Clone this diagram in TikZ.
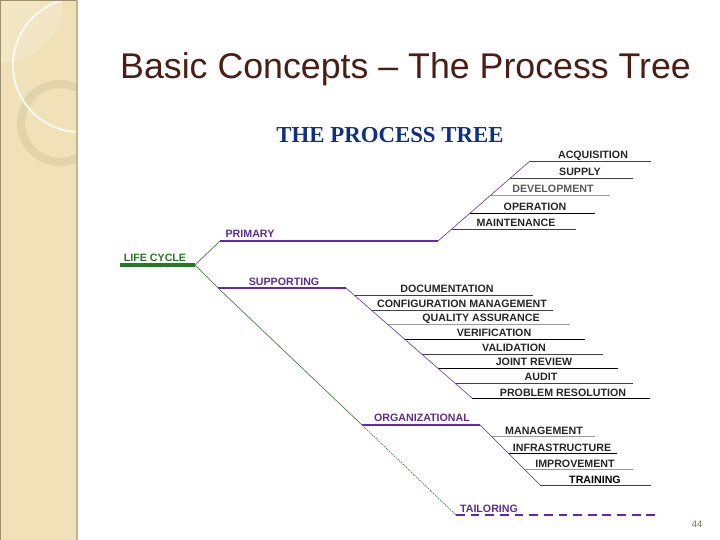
\documentclass[tikz,border=0pt]{standalone}
\usepackage{fontspec}
\setsansfont{Liberation Sans}
\newfontfamily\procserif{Liberation Serif}
\usepackage{tikz}
\usetikzlibrary{positioning,calc}
\definecolor{stripTan}{HTML}{F0E1B8}
\definecolor{stripEdge}{HTML}{C6B48A}
\definecolor{titleBrown}{HTML}{4A1E16}
\definecolor{procBlue}{HTML}{10307F}
\definecolor{procGreen}{HTML}{237A23}
\definecolor{procPurple}{HTML}{6A22B8}
\definecolor{procViolet}{HTML}{5C2D91}
\tikzset{
  proc/label/.style={font=\sffamily\bfseries\fontsize{9.1}{11}\selectfont, inner sep=0pt, anchor=base, text=black!85},
  proc/group/.style={proc/label, text=procViolet},
  proc/uline/.style={draw=black!75, line width=0.8pt},
  proc/faint/.style={draw=black!40, line width=0.8pt},
  proc/bar/.style={draw=procPurple, line width=1.7pt},
  proc/trunk/.style={draw=procGreen, line width=2.6pt},
  proc/stem/.style={draw=procGreen!50!gray, line width=0.6pt},
  proc/twig/.style={draw=procPurple!55!gray, line width=0.6pt}
}
\begin{document}
\begin{tikzpicture}[x=0.03cm,y=-0.03cm]
  \useasboundingbox (0,0) rectangle (720,540);
  % side strip
  \fill[stripTan] (0,0) rectangle (77,540);
  \begin{scope}
    \clip (0,0) rectangle (77,540);
    \fill[white, opacity=0.18] (0,0) circle (63);
    \draw[stripEdge, opacity=0.3, line width=7pt] (60,123) circle (39);
    \draw[white, opacity=0.8, line width=1.6pt] (80,65) circle (67);
  \end{scope}
  \draw[stripEdge!80!black, line width=0.6pt] (0,0) rectangle (77,540);
  \draw[stripEdge, line width=1.6pt] (77,0) -- (77,540);
  % titles
  \node[font=\sffamily\fontsize{30.5}{34}\selectfont, text=titleBrown, inner sep=0pt, anchor=base west] (title) at (120,79) {Basic Concepts -- The Process Tree};
  \node[font=\procserif\bfseries\fontsize{19.5}{22}\selectfont, text=procBlue, inner sep=0pt, anchor=base] (head) at (390,143) {THE PROCESS TREE};
  \node[font=\sffamily\fontsize{8}{9}\selectfont, text=black!40!stripEdge, inner sep=0pt] (page) at (697,524) {44};

  % life cycle and its three branches
  \draw[proc/trunk] (120,265) coordinate (lc-s) -- (195,265) coordinate (lc-e);
  \node[proc/label, text=procGreen] (lc) at (155,262) {LIFE CYCLE};
  \draw[proc/bar] (220,241) coordinate (prim-s) -- (438,241) coordinate (prim-e);
  \node[proc/group] (prim) at (250,238) {PRIMARY};
  \draw[proc/bar] (218,288) coordinate (supp-s) -- (346,288) coordinate (supp-e);
  \node[proc/group] (supp) at (284,286) {SUPPORTING};
  \draw[proc/bar] (362,425) coordinate (org-s) -- (480,425) coordinate (org-e);
  \node[proc/group] (org) at (422,422) {ORGANIZATIONAL};
  \draw[draw=procPurple, line width=2.2pt, dash pattern=on 7.5pt off 5pt] (456,515) coordinate (tail-s) -- (655,515) coordinate (tail-e);
  \node[proc/group] (tail) at (489,512) {TAILORING};
  \draw[proc/stem] (lc-e) -- (prim-s);
  \draw[proc/stem] (lc-e) -- (supp-s) -- (org-s);
  \draw[proc/stem, dash pattern=on 1.2pt off 0.8pt] (org-s) -- (tail-s);

  % primary processes
  \draw[proc/uline] (530,161) coordinate (acq-s) -- (651,161);
  \node[proc/label] (acq) at (593,159) {ACQUISITION};
  \draw[proc/uline] (510,178) coordinate (sup-s) -- (633,178);
  \node[proc/label] (sup) at (580,176) {SUPPLY};
  \draw[proc/faint] (491,195) coordinate (dev-s) -- (610,195);
  \node[proc/label, text=black!65] (dev) at (553,193) {DEVELOPMENT};
  \draw[proc/uline, draw=black] (470,213) coordinate (ope-s) -- (595,213);
  \node[proc/label] (ope) at (535,211) {OPERATION};
  \draw[proc/uline] (452,229) coordinate (mai-s) -- (576,229);
  \node[proc/label] (mai) at (516,227) {MAINTENANCE};
  \draw[proc/twig] (prim-e) -- (acq-s);

  % supporting processes
  \draw[proc/uline] (354,295) coordinate (doc-s) -- (533,295);
  \node[proc/label] (doc) at (447,293) {DOCUMENTATION};
  \draw[proc/uline] (371,310) coordinate (cfg-s) -- (553,310);
  \node[proc/label] (cfg) at (462,308) {CONFIGURATION MANAGEMENT};
  \draw[proc/faint] (387,324) coordinate (qa-s) -- (570,324);
  \node[proc/label] (qa) at (481,322) {QUALITY ASSURANCE};
  \draw[proc/uline, draw=black] (404,339) coordinate (ver-s) -- (585,339);
  \node[proc/label] (ver) at (494,337) {VERIFICATION};
  \draw[proc/uline] (422,354) coordinate (val-s) -- (603,354);
  \node[proc/label] (val) at (514,352) {VALIDATION};
  \draw[proc/uline, draw=black] (438,368) coordinate (jr-s) -- (618,368);
  \node[proc/label] (jr) at (534,366) {JOINT REVIEW};
  \draw[proc/uline] (455,383) coordinate (aud-s) -- (633,383);
  \node[proc/label] (aud) at (541,381) {AUDIT};
  \draw[proc/uline, draw=black] (472,398) coordinate (pr-s) -- (650,398);
  \node[proc/label] (pr) at (563,396) {PROBLEM RESOLUTION};
  \draw[proc/twig] (supp-e) -- (pr-s);

  % organizational processes
  \draw[proc/faint] (491,436) coordinate (man-s) -- (595,436);
  \node[proc/label] (man) at (544,434) {MANAGEMENT};
  \draw[proc/uline, draw=black] (508,453) coordinate (inf-s) -- (617,453);
  \node[proc/label] (inf) at (562,451) {INFRASTRUCTURE};
  \draw[proc/faint] (524,469) coordinate (imp-s) -- (633,469);
  \node[proc/label] (imp) at (575,467) {IMPROVEMENT};
  \draw[proc/uline] (540,485) coordinate (tra-s) -- (651,485);
  \node[proc/label, text=black] (tra) at (595,483) {TRAINING};
  \draw[proc/twig] (org-e) -- (tra-s);
\end{tikzpicture}
\end{document}
